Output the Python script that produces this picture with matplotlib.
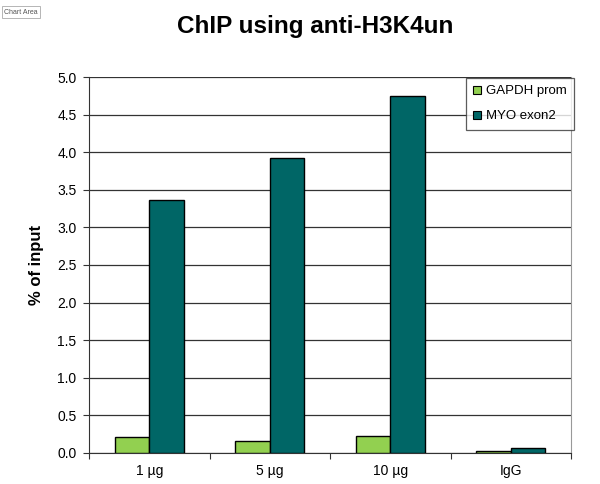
import numpy as np
import matplotlib
matplotlib.use('Agg')
import matplotlib.pyplot as plt
from matplotlib.patches import Patch

plt.rcParams['font.family'] = ['Liberation Sans', 'DejaVu Sans']

# data
groups = ['1 µg', '5 µg', '10 µg', 'IgG']
gapdh = [0.21, 0.16, 0.22, 0.02]
myo = [3.36, 3.92, 4.75, 0.07]
series_names = ['GAPDH prom', 'MYO exon2']
colors = ['#92D050', '#006666']

fig = plt.figure(figsize=(6, 4.84), dpi=100)
ax = fig.add_axes([89/600, 31/484, 482/600, 376/484])

x = np.arange(len(groups))
w = 0.285
ax.bar(x - w/2, gapdh, w, color=colors[0], edgecolor='black', linewidth=1, zorder=3)
ax.bar(x + w/2, myo, w, color=colors[1], edgecolor='black', linewidth=1, zorder=3)

ax.set_xlim(-0.5, len(groups) - 0.5)
ax.set_ylim(0, 5.0)
ax.set_yticks(np.arange(0, 5.01, 0.5))
ax.set_yticklabels(['%.1f' % v for v in np.arange(0, 5.01, 0.5)], fontsize=10)
ax.yaxis.grid(True, color='#333333', linewidth=0.9, zorder=0)

# x ticks sit between groups, labels centred on groups
ax.set_xticks(np.arange(-0.5, len(groups), 1.0))
ax.set_xticklabels([])
ax.set_xticks(x, minor=True)
ax.set_xticklabels(groups, minor=True, fontsize=10)
ax.tick_params(axis='x', which='minor', length=0, pad=8)
ax.tick_params(axis='x', which='major', length=4, direction='out', color='#333333')
ax.tick_params(axis='y', length=4, direction='out', color='#333333', pad=5)

ax.spines['top'].set_visible(False)
ax.spines['right'].set_color('#999999')
ax.spines['left'].set_color('#333333')
ax.spines['bottom'].set_color('#333333')

ax.set_ylabel('% of input', fontsize=12, fontweight='bold')
ax.yaxis.set_label_coords((44 - 89) / 482, 0.5)

fig.text(315/600, 1 - 27/484, 'ChIP using anti-H3K4un', fontsize=17.5,
         fontweight='bold', ha='center', va='center')

fig.text(4/600, 1 - 12/484, 'Chart Area', fontsize=5, color='#555555',
         ha='left', va='center',
         bbox=dict(boxstyle='square,pad=0.3', fc='white', ec='#aaaaaa', lw=0.6))

handles = [Patch(facecolor=c, edgecolor='black', linewidth=0.8) for c in colors]
leg = fig.legend(handles, series_names, loc='upper left',
                 bbox_to_anchor=(466/600, 1 - 78/484), fontsize=9.5,
                 frameon=True, fancybox=False, edgecolor='#333333',
                 handlelength=0.55, handleheight=0.55, handletextpad=0.4,
                 labelspacing=1.0, borderpad=0.55, borderaxespad=0)
leg.get_frame().set_linewidth(0.9)

fig.savefig('out.png', dpi=100)
